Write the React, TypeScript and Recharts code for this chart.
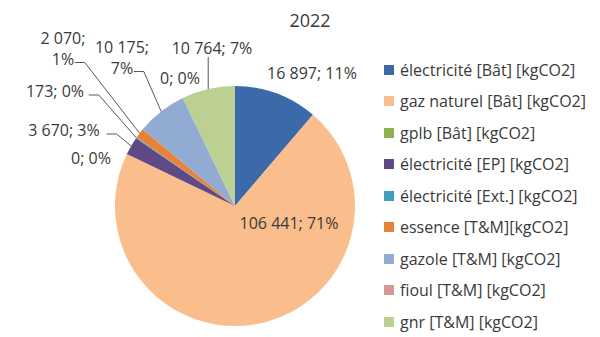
import { PieChart, Pie, Cell, Legend } from "recharts";

const categories = [
  "électricité [Bât] [kgCO2]",
  "gaz naturel [Bât] [kgCO2]",
  "gplb [Bât] [kgCO2]",
  "électricité [EP] [kgCO2]",
  "électricité [Ext.] [kgCO2]",
  "essence [T&M][kgCO2]",
  "gazole [T&M] [kgCO2]",
  "fioul [T&M] [kgCO2]",
  "gnr [T&M] [kgCO2]",
];
const values = [16897, 106441, 0, 3670, 173, 2070, 10175, 0, 10764];
const percents = ["11%", "71%", "0%", "3%", "0%", "1%", "7%", "0%", "7%"];
const colors = [
  "#3b69a9",
  "#f9be8c",
  "#8fb153",
  "#5f4a86",
  "#3f9fbb",
  "#e7823a",
  "#92abd3",
  "#d99694",
  "#bcd092",
];

// where each data label sits, relative to the pie centre (Excel "best fit" look)
const labelLayout = [
  { dx: 77, dy: -133, split: false, leader: "none" },
  { dx: 54, dy: 17, split: false, leader: "none" },
  { dx: -144, dy: -48, split: false, leader: "none" },
  { dx: -171, dy: -76, split: false, leader: "side" },
  { dx: -180, dy: -115, split: false, leader: "side" },
  { dx: -172, dy: -158, split: true, leader: "side" },
  { dx: -113, dy: -149, split: true, leader: "side" },
  { dx: -55, dy: -128, split: false, leader: "none" },
  { dx: -23, dy: -158, split: false, leader: "down" },
];

const fmt = (n: number) => String(n).replace(/\B(?=(\d{3})+(?!\d))/g, " ");

const data = categories.map((name, i) => ({ name, value: values[i] }));

const TEXT = "#3a3a3a";
const FONT = "'Open Sans', Lato, sans-serif";
const RAD = Math.PI / 180;

const renderLabel = (props: any) => {
  const { cx, cy, midAngle, outerRadius, index } = props;
  const lay = labelLayout[index];
  const x = cx + lay.dx;
  const y = cy + lay.dy;
  const px = cx + outerRadius * Math.cos(-midAngle * RAD);
  const py = cy + outerRadius * Math.sin(-midAngle * RAD);
  const first = fmt(values[index]) + ";";
  const lines = lay.split ? [first, percents[index]] : [first + " " + percents[index]];
  const lh = 21;
  const y0 = y - ((lines.length - 1) * lh) / 2;
  let leader = null;
  if (lay.leader === "side") {
    const lastW = lines[lines.length - 1].length * 8.8;
    const sx = x + lastW / 2 + 3;
    const sy = y0 + (lines.length - 1) * lh + 4;
    leader = (
      <polyline
        points={`${sx},${sy} ${sx + 10},${sy} ${px},${py}`}
        fill="none"
        stroke="#595959"
        strokeWidth={1}
      />
    );
  } else if (lay.leader === "down") {
    leader = (
      <line x1={px} y1={y + 9} x2={px} y2={py} stroke="#595959" strokeWidth={1} />
    );
  }
  return (
    <g key={`lbl-${index}`}>
      {leader}
      {lines.map((t, k) => (
        <text
          key={k}
          x={x}
          y={y0 + k * lh}
          textAnchor="middle"
          dominantBaseline="central"
          fill={TEXT}
          fontSize={16}
          fontFamily={FONT}
        >
          {t}
        </text>
      ))}
    </g>
  );
};

const renderLegend = () => (
  <div style={{ fontFamily: FONT, fontSize: 16, color: TEXT }}>
    {categories.map((c, i) => (
      <div
        key={c}
        style={{ display: "flex", alignItems: "center", height: 31.5, whiteSpace: "nowrap" }}
      >
        <span
          style={{
            display: "inline-block",
            width: 10,
            height: 10,
            background: colors[i],
            marginRight: 6,
          }}
        />
        {c}
      </div>
    ))}
  </div>
);

export default function App() {
  return (
    <div style={{ position: "absolute", left: 0, top: 0, width: 600, height: 337, background: "#fff" }}>
      <div
        style={{
          position: "absolute",
          left: 270,
          top: 8,
          width: 80,
          textAlign: "center",
          fontFamily: FONT,
          fontSize: 18,
          color: TEXT,
        }}
      >
        2022
      </div>
      <PieChart width={600} height={337}>
        <Pie
          data={data}
          dataKey="value"
          nameKey="name"
          cx={230}
          cy={201}
          outerRadius={120}
          startAngle={90}
          endAngle={-270}
          stroke="none"
          label={renderLabel}
          labelLine={false}
          isAnimationActive={false}
        >
          {data.map((d, i) => (
            <Cell key={d.name} fill={colors[i]} />
          ))}
        </Pie>
        <Legend
          layout="vertical"
          align="right"
          verticalAlign="top"
          content={renderLegend}
          wrapperStyle={{ left: 384, top: 54, width: 216 }}
        />
      </PieChart>
    </div>
  );
}
